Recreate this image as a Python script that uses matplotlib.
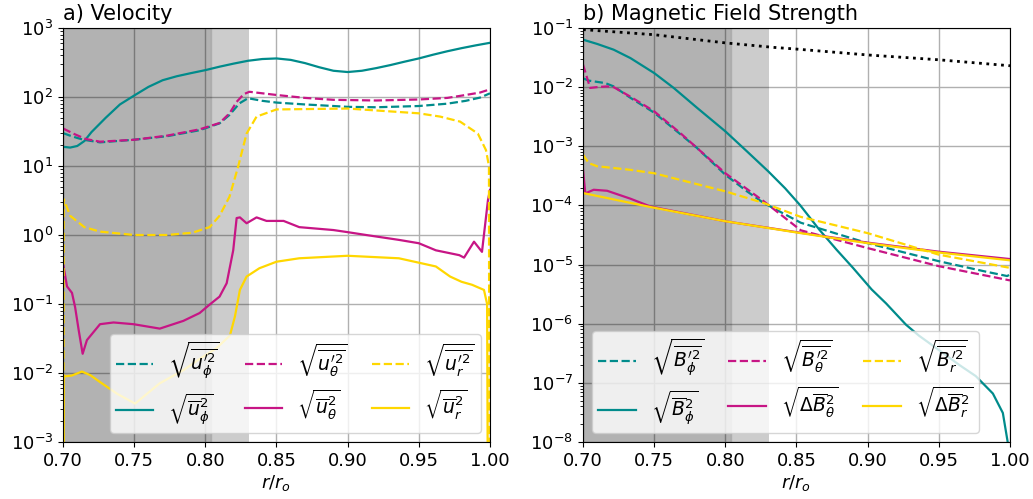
import matplotlib
matplotlib.use("Agg")
import matplotlib.pyplot as plt

TEAL = "#008b8b"
MAGENTA = "#c71585"
GOLD = "#ffd700"
TINY = 1e-12

# ---- a) velocity ----
r_uphi_mean = [0.700, 0.705, 0.710, 0.715, 0.720, 0.730, 0.740, 0.750, 0.760, 0.770,
               0.780, 0.790, 0.800, 0.810, 0.820, 0.830, 0.840, 0.850, 0.860, 0.870,
               0.880, 0.890, 0.900, 0.910, 0.920, 0.930, 0.940, 0.950, 0.960, 0.970,
               0.980, 0.990, 1.000]
uphi_mean = [19, 18.5, 19.5, 23, 31, 50, 78, 105, 140, 175,
             200, 222, 245, 275, 305, 335, 355, 362, 345, 310,
             270, 240, 230, 240, 262, 290, 325, 362, 410, 460,
             510, 560, 610]

r_uphi_fluc = [0.700, 0.705, 0.710, 0.7145, 0.726, 0.7495, 0.773, 0.796, 0.810, 0.817,
               0.824, 0.830, 0.840, 0.850, 0.870, 0.890, 0.900, 0.920, 0.950, 0.970,
               0.983, 0.993, 1.000]
uphi_fluc = [30, 27.5, 25.5, 24, 22, 24, 27, 33, 41.5, 55,
             81, 96, 88, 83, 78, 74, 72, 71, 74, 80,
             88, 98, 113]

r_uth_fluc = [0.700, 0.708, 0.716, 0.726, 0.750, 0.773, 0.796, 0.810, 0.817, 0.822,
              0.827, 0.831, 0.850, 0.870, 0.890, 0.920, 0.950, 0.970, 0.983, 0.993,
              1.000]
uth_fluc = [35, 29, 24.6, 22.5, 24, 27.5, 34, 42, 58, 85,
            110, 119, 107, 97, 91, 89, 92, 97, 107, 116,
            129]

r_ur_fluc = [0.700, 0.7005, 0.705, 0.715, 0.726, 0.750, 0.773, 0.791, 0.803, 0.810,
             0.817, 0.823, 0.829, 0.836, 0.850, 0.900, 0.950, 0.965, 0.979, 0.9915,
             0.9972, 0.9993, 1.000]
ur_fluc = [TINY, 3.3, 1.9, 1.3, 1.12, 1.0, 1.0, 1.08, 1.3, 1.9,
           3.6, 9.7, 29.5, 52, 66, 68, 58, 52, 44, 29.5,
           17, 10, TINY]

r_uth_mean = [0.700, 0.7028, 0.7063, 0.7085, 0.711, 0.7138, 0.7168, 0.726, 0.7355, 0.7495,
              0.768, 0.7846, 0.796, 0.803, 0.810, 0.815, 0.8196, 0.822, 0.8243, 0.829,
              0.836, 0.843, 0.855, 0.866, 0.890, 0.900, 0.913, 0.936, 0.950, 0.962,
              0.9785, 0.9818, 0.9888, 0.9944, 0.9986, 1.000]
uth_mean = [0.39, 0.18, 0.145, 0.09, 0.042, 0.019, 0.030, 0.051, 0.054, 0.051,
            0.044, 0.057, 0.074, 0.098, 0.128, 0.2, 0.6, 1.76, 1.8, 1.48,
            1.8, 1.6, 1.6, 1.3, 1.18, 1.1, 1.0, 0.85, 0.76, 0.6,
            0.51, 0.47, 0.8, 0.57, 3.2, 4.5]

r_ur_mean = [0.700, 0.7005, 0.7063, 0.7133, 0.7192, 0.726, 0.738, 0.7507, 0.759, 0.768,
             0.7846, 0.796, 0.808, 0.8173, 0.8208, 0.8243, 0.829, 0.838, 0.850, 0.866,
             0.900, 0.936, 0.962, 0.972, 0.980, 0.9874, 0.9958, 0.998, 1.000]
ur_mean = [TINY, 0.0089, 0.0092, 0.0105, 0.0093, 0.0074, 0.005, 0.0036, 0.005, 0.0071,
           0.011, 0.016, 0.023, 0.035, 0.066, 0.16, 0.25, 0.33, 0.41, 0.46,
           0.50, 0.46, 0.35, 0.25, 0.21, 0.19, 0.16, 0.1, TINY]

# ---- b) magnetic field ----
r_ref = [0.700, 0.750, 0.800, 0.834, 0.850, 0.900, 0.950, 1.000]
b_ref = [0.094, 0.077, 0.056, 0.047, 0.044, 0.035, 0.029, 0.023]

r_bphi_mean = [0.700, 0.710, 0.7215, 0.7333, 0.750, 0.7637, 0.780, 0.800, 0.8152, 0.8300,
               0.8420, 0.8527, 0.866, 0.878, 0.8897, 0.9028, 0.913, 0.927, 0.936, 0.950,
               0.9645, 0.976, 0.988, 0.995, 0.9984, 1.000]
bphi_mean = [0.0635, 0.0537, 0.043, 0.031, 0.0173, 0.0097, 0.0045, 0.00179, 8.2e-4, 3.8e-4,
             1.95e-4, 1e-4, 3.9e-5, 1.8e-5, 8.8e-6, 3.8e-6, 2.2e-6, 9.6e-7, 6.3e-7, 3.6e-7,
             2e-7, 1.3e-7, 6.6e-8, 3.1e-8, 1e-8, 1e-9]

r_bphi_fluc = [0.7003, 0.704, 0.7157, 0.7215, 0.7333, 0.750, 0.7684, 0.780, 0.800, 0.8152,
               0.8269, 0.853, 0.900, 0.950, 0.983, 0.998, 1.000]
bphi_fluc = [0.014, 0.0129, 0.0117, 0.0103, 0.0066, 0.0037, 0.0016, 9.4e-4, 3.3e-4, 1.73e-4,
             1.1e-4, 5.1e-5, 2.3e-5, 1.14e-5, 7.6e-6, 6.4e-6, 6.8e-6]

r_bth_fluc = [0.700, 0.705, 0.7098, 0.7169, 0.7215, 0.7333, 0.750, 0.7684, 0.800, 0.8269,
              0.853, 0.900, 0.950, 1.000]
bth_fluc = [0.024, 0.0097, 0.010, 0.0103, 0.010, 0.0069, 0.0039, 0.00167, 3.5e-4, 1.18e-4,
            3.8e-5, 1.9e-5, 9.4e-6, 5.4e-6]

r_br_fluc = [0.700, 0.704, 0.7098, 0.7333, 0.750, 0.7684, 0.800, 0.8269, 0.853, 0.900,
             0.950, 1.000]
br_fluc = [7.2e-4, 5.2e-4, 4.6e-4, 4e-4, 3.5e-4, 2.7e-4, 1.73e-4, 1.1e-4, 6.4e-5, 3.4e-5,
           1.47e-5, 8.8e-6]

r_bth_mean = [0.700, 0.7016, 0.7075, 0.7169, 0.7333, 0.7473, 0.800, 0.853, 0.900, 0.950,
              1.000]
bth_mean = [4e-4, 1.6e-4, 1.84e-4, 1.77e-4, 1.3e-4, 9.6e-5, 5.4e-5, 3.45e-5, 2.35e-5, 1.65e-5,
            1.24e-5]

r_br_mean = [0.700, 0.7473, 0.800, 0.853, 0.900, 0.950, 1.000]
br_mean = [1.62e-4, 9.4e-5, 5.4e-5, 3.4e-5, 2.3e-5, 1.6e-5, 1.18e-5]

vel_labels = [r"$\sqrt{\overline{u_\phi^{\prime 2}}}$", r"$\sqrt{\overline{u}_\phi^2}$",
              r"$\sqrt{\overline{u_\theta^{\prime 2}}}$", r"$\sqrt{\overline{u}_\theta^2}$",
              r"$\sqrt{\overline{u_r^{\prime 2}}}$", r"$\sqrt{\overline{u}_r^2}$"]
mag_labels = [r"$\sqrt{\overline{B_\phi^{\prime 2}}}$", r"$\sqrt{\overline{B}_\phi^2}$",
              r"$\sqrt{\overline{B_\theta^{\prime 2}}}$", r"$\sqrt{\Delta\overline{B}_\theta^2}$",
              r"$\sqrt{\overline{B_r^{\prime 2}}}$", r"$\sqrt{\Delta\overline{B}_r^2}$"]

fig, (ax1, ax2) = plt.subplots(1, 2, figsize=(10.33, 4.99), dpi=100)
fig.subplots_adjust(left=0.061, right=0.9777, bottom=0.1142, top=0.9439, wspace=0.218)


def shade(ax):
    ax.set_axisbelow(True)
    ax.grid(True, which="major", color="#b0b0b0", lw=1)
    ax.axvspan(0.7, 0.804, color="k", alpha=0.3, lw=0, zorder=1)
    ax.axvspan(0.804, 0.831, color="k", alpha=0.2, lw=0, zorder=1)
    ax.axvline(0.804, color="k", alpha=0.15, lw=1, zorder=1)


lw = 1.6
leg_kw = dict(ncol=3, fontsize=13.5, columnspacing=1.3, handletextpad=0.8,
              borderpad=0.3, labelspacing=0.55)
for ax in (ax1, ax2):
    shade(ax)

h = []
h += ax1.plot(r_uphi_fluc, uphi_fluc, "--", color=TEAL, lw=lw)
h += ax1.plot(r_uphi_mean, uphi_mean, "-", color=TEAL, lw=lw)
h += ax1.plot(r_uth_fluc, uth_fluc, "--", color=MAGENTA, lw=lw)
h += ax1.plot(r_uth_mean, uth_mean, "-", color=MAGENTA, lw=lw)
h += ax1.plot(r_ur_fluc, ur_fluc, "--", color=GOLD, lw=lw)
h += ax1.plot(r_ur_mean, ur_mean, "-", color=GOLD, lw=lw)
ax1.set_yscale("log")
ax1.set_ylim(1e-3, 1e3)
ax1.set_xlim(0.7, 1.0)
ax1.set_title("a) Velocity", loc="left", fontsize=15)
ax1.legend(h, vel_labels, loc="lower right", **leg_kw)

h = []
ax2.plot(r_ref, b_ref, ":", color="k", lw=2)
h += ax2.plot(r_bphi_fluc, bphi_fluc, "--", color=TEAL, lw=lw)
h += ax2.plot(r_bphi_mean, bphi_mean, "-", color=TEAL, lw=lw)
h += ax2.plot(r_bth_fluc, bth_fluc, "--", color=MAGENTA, lw=lw)
h += ax2.plot(r_bth_mean, bth_mean, "-", color=MAGENTA, lw=lw)
h += ax2.plot(r_br_fluc, br_fluc, "--", color=GOLD, lw=lw)
h += ax2.plot(r_br_mean, br_mean, "-", color=GOLD, lw=lw)
ax2.set_yscale("log")
ax2.set_ylim(1e-8, 1e-1)
ax2.set_xlim(0.7, 1.0)
ax2.set_title("b) Magnetic Field Strength", loc="left", fontsize=15)
ax2.legend(h, mag_labels, loc="lower left", **leg_kw)

for ax in (ax1, ax2):
    ax.set_xlabel(r"$r/r_o$", fontsize=13, labelpad=2)
    ax.set_xticks([0.70, 0.75, 0.80, 0.85, 0.90, 0.95, 1.00])
    ax.set_xticklabels(["0.70", "0.75", "0.80", "0.85", "0.90", "0.95", "1.00"])
    ax.tick_params(labelsize=13)

fig.savefig("out.png", dpi=100)
